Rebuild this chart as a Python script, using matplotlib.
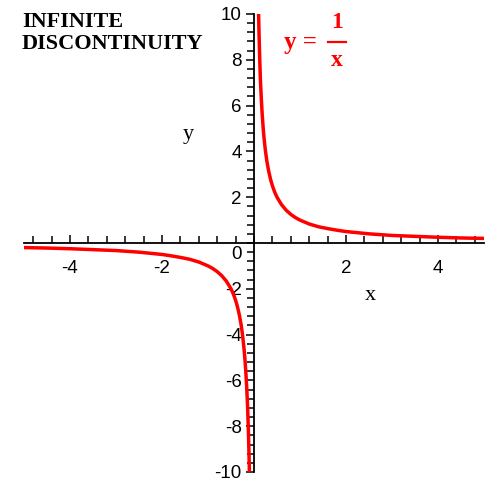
import matplotlib
matplotlib.use("Agg")
import matplotlib.pyplot as plt
from matplotlib.ticker import MultipleLocator, FixedLocator

# values (curve y = 1/x)
x_pos = [0.1, 0.11, 0.125, 0.14, 0.16, 0.18, 0.2, 0.22, 0.25, 0.28, 0.32, 0.36, 0.4,
         0.45, 0.5, 0.6, 0.7, 0.8, 0.9, 1.0, 1.2, 1.4, 1.6, 1.8, 2.0, 2.5, 3.0, 3.5,
         4.0, 4.5, 5.0]
y_pos = [10.0, 9.1, 8.0, 7.1, 6.25, 5.56, 5.0, 4.55, 4.0, 3.57, 3.13, 2.78, 2.5,
         2.22, 2.0, 1.67, 1.43, 1.25, 1.11, 1.0, 0.83, 0.71, 0.63, 0.56, 0.5, 0.4,
         0.33, 0.29, 0.25, 0.22, 0.2]
x_neg = [-5.0, -4.5, -4.0, -3.5, -3.0, -2.5, -2.0, -1.8, -1.6, -1.4, -1.2, -1.0, -0.9,
         -0.8, -0.7, -0.6, -0.5, -0.45, -0.4, -0.36, -0.32, -0.28, -0.25, -0.22, -0.2,
         -0.18, -0.16, -0.14, -0.125, -0.11, -0.1]
y_neg = [-0.2, -0.22, -0.25, -0.29, -0.33, -0.4, -0.5, -0.56, -0.63, -0.71, -0.83,
         -1.0, -1.11, -1.25, -1.43, -1.67, -2.0, -2.22, -2.5, -2.78, -3.13, -3.57, -4.0,
         -4.55, -5.0, -5.56, -6.25, -7.1, -8.0, -9.1, -10.0]

x_ticks = [-4, -2, 2, 4]
y_ticks = [-10, -8, -6, -4, -2, 2, 4, 6, 8, 10]

fig = plt.figure(figsize=(4.9, 4.84), dpi=100)
W, H = 490, 484
ax = fig.add_axes([24 / W, (H - 472) / H, 460 / W, 458 / H])
ax.set_xlim(-5, 5)
ax.set_ylim(-10, 10)

red = "#ff0000"
ax.plot(x_pos, y_pos, color=red, lw=2.5, solid_joinstyle="miter")
ax.plot(x_neg, y_neg, color=red, lw=2.5, solid_joinstyle="miter")

for s in ["top", "right"]:
    ax.spines[s].set_visible(False)
ax.spines["left"].set_position(("data", 0))
ax.spines["bottom"].set_position(("data", 0))
ax.spines["left"].set_linewidth(1.3)
ax.spines["bottom"].set_linewidth(1.3)

ax.xaxis.set_major_locator(FixedLocator(x_ticks))
ax.yaxis.set_major_locator(FixedLocator(y_ticks))
ax.xaxis.set_minor_locator(MultipleLocator(0.4))
ax.yaxis.set_minor_locator(MultipleLocator(0.4))

tickfont = dict(family="Liberation Sans", size=13.5)
ax.tick_params(axis="x", which="both", direction="in", width=1.1, pad=12)
ax.tick_params(axis="x", which="major", length=6)
ax.tick_params(axis="x", which="minor", length=5)
ax.tick_params(axis="y", which="both", direction="out", width=1.1, pad=3)
ax.tick_params(axis="y", which="major", length=6)
ax.tick_params(axis="y", which="minor", length=5)
ax.set_xticklabels([str(v) for v in x_ticks], **tickfont)
ax.set_yticklabels([str(v) for v in y_ticks], **tickfont)

ax.text(-0.38, -0.52, "0", ha="center", va="center", **tickfont)

ax.text(2.52, -2.3, "x", ha="center", va="center", family="Liberation Serif", fontsize=16)
ax.text(-1.43, 4.75, "y", ha="center", va="center", family="Liberation Serif", fontsize=16)

fig.text(22 / W, 1 - 12 / H, "INFINITE\nDISCONTINUITY", ha="left", va="top",
         family="Liberation Serif", fontweight="bold", fontsize=16, linespacing=1.12)

# label y = 1/x
fig.text(284 / W, 1 - 42 / H, "y =", ha="left", va="center", color=red,
         family="Liberation Serif", fontweight="bold", fontsize=18)
fig.text(337 / W, 1 - 22 / H, "1", ha="center", va="center", color=red,
         family="Liberation Serif", fontweight="bold", fontsize=17)
fig.text(337 / W, 1 - 60 / H, "x", ha="center", va="center", color=red,
         family="Liberation Serif", fontweight="bold", fontsize=17)
fig.add_artist(plt.Line2D([328 / W, 346 / W], [1 - 42 / H, 1 - 42 / H], color=red,
                          lw=1.6, transform=fig.transFigure))

fig.savefig("out.png", dpi=100)
